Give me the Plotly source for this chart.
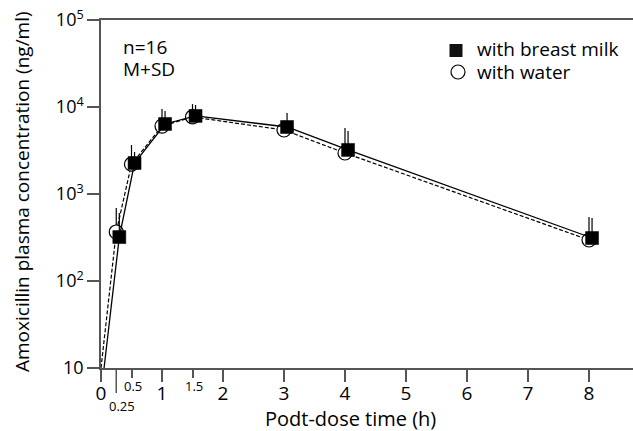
import plotly.graph_objects as go

# ---- data ----
time_h = [0, 0.25, 0.5, 1, 1.5, 3, 4, 8]
milk_mean = [10, 320, 2270, 6380, 7890, 5890, 3210, 312]
milk_sd_top = [None, 605, 3040, 9000, 10550, 8530, 5300, 530]
water_mean = [10, 366, 2200, 6030, 7680, 5440, 2960, 296]
water_sd_top = [None, 690, 3660, 9480, 10800, 7000, 5740, 545]

x_major_ticks = [0, 1, 2, 3, 4, 5, 6, 7, 8]
x_minor_ticks = [0.5, 1.5]
x_minor_labels = ["0.5", "1.5"]
y_ticks = [10, 100, 1000, 10000, 100000]
y_ticklabels = ["10", "10<sup>2</sup>", "10<sup>3</sup>", "10<sup>4</sup>", "10<sup>5</sup>"]
series_names = ["with breast milk", "with water"]

milk_offset = 0.05  # small horizontal nudge of squares, as in the original
water_offset = 0.0

FONT = "Open Sans"
AX = "#555555"
BIG = 19

def plus(mean, top):
    return [0 if t is None else t - m for m, t in zip(mean, top)]

fig = go.Figure()

fig.add_trace(go.Scatter(
    x=[t + water_offset for t in time_h], y=water_mean,
    mode="lines+markers", name=series_names[1],
    line=dict(color="black", width=1.2, dash="4px,2px"),
    marker=dict(symbol="circle", size=[0] + [14] * (len(time_h) - 1), opacity=1,
                color="white", line=dict(color="black", width=1.2)),
    error_y=dict(type="data", symmetric=False, array=plus(water_mean, water_sd_top),
                 arrayminus=[0] * len(time_h), width=0, thickness=1.2, color="black"),
    showlegend=False, cliponaxis=False,
))
fig.add_trace(go.Scatter(
    x=[t + milk_offset for t in time_h], y=milk_mean,
    mode="lines+markers", name=series_names[0],
    line=dict(color="black", width=1.3),
    marker=dict(symbol="square", size=[0] + [13] * (len(time_h) - 1), opacity=1,
                color="#000000", line=dict(color="#000000", width=0.5)),
    error_y=dict(type="data", symmetric=False, array=plus(milk_mean, milk_sd_top),
                 arrayminus=[0] * len(time_h), width=0, thickness=1.2, color="black"),
    showlegend=False, cliponaxis=False,
))

W, H = 633, 431
L, R, T, B = 101, 0, 20, 63
pw, ph = W - L - R, H - T - B
def px(xp):
    return (xp - L) / pw
def py(yp):
    return (H - B - yp) / ph

def ann(text, x, y, size, xref="paper", xanchor="center", **kw):
    return dict(text=text, x=x, y=y, xref=xref, yref="paper", xanchor=xanchor,
                yanchor="middle", showarrow=False, font=dict(size=size), **kw)

annotations = [
    ann("n=16", px(121), py(47), BIG, xanchor="left"),
    ann("M+SD", px(121), py(69), BIG, xanchor="left"),
    ann("Amoxicillin plasma concentration (ng/ml)", px(22), py(192), BIG, textangle=-90),
    ann("Podt-dose time (h)", px(350), py(418), 20),
    ann("0.25", 0.25, py(406), 13, xref="x", xshift=6),
    ann(series_names[0], px(475), py(49), BIG, xanchor="left"),
    ann(series_names[1], px(475), py(72), BIG, xanchor="left"),
]
for v, lab in zip(x_minor_ticks, x_minor_labels):
    annotations.append(ann(lab, v, py(386), 13, xref="x", xshift=1))

shapes = [
    dict(type="line", xref="x", yref="paper", x0=0.25, x1=0.25,
         y0=0, y1=py(393), line=dict(color=AX, width=1.5)),
    # legend symbols
    dict(type="rect", xref="paper", yref="paper", x0=px(449.5), x1=px(462.5),
         y0=py(57), y1=py(44), fillcolor="#111111", line=dict(width=0)),
    dict(type="circle", xref="paper", yref="paper", x0=px(451), x1=px(465),
         y0=py(79), y1=py(65), fillcolor="white", line=dict(color="black", width=1.2)),
]

fig.update_layout(
    width=W, height=H,
    margin=dict(l=L, r=R, t=T, b=B),
    plot_bgcolor="white", paper_bgcolor="white",
    font=dict(family=FONT, color="black", size=17),
    annotations=annotations, shapes=shapes, showlegend=False,
)
fig.update_xaxes(
    range=[0, (W - L) / 61.0], showgrid=False, zeroline=False,
    showline=True, linecolor=AX, linewidth=1.5, mirror=True,
    ticks="outside", ticklen=12, tickwidth=1.5, tickcolor=AX,
    tickvals=x_major_ticks, ticktext=[str(v) for v in x_major_ticks],
    tickfont=dict(size=19), ticklabelstandoff=-5,
    minor=dict(tickvals=x_minor_ticks, ticks="outside", ticklen=8,
               tickwidth=1.5, tickcolor=AX),
)
fig.update_yaxes(
    type="log", range=[1, 5], showgrid=False, zeroline=False,
    showline=True, linecolor=AX, linewidth=1.5,
    ticks="outside", ticklen=12, tickwidth=1.5, tickcolor=AX,
    tickvals=y_ticks, ticktext=y_ticklabels, tickfont=dict(size=18),
)

fig.write_html("out.html", config={"displayModeBar": False},
               post_script="document.body.style.margin='0';document.body.style.overflow='hidden';")
